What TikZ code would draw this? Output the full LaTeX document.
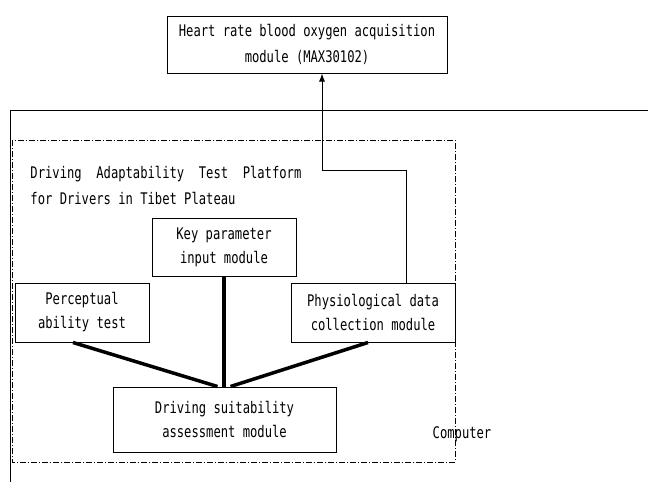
\documentclass[tikz,border=0pt]{standalone}
\usepackage{fontspec}
\setmainfont[FakeStretch=0.76]{DejaVu Sans Mono}
\usetikzlibrary{arrows.meta}

\begin{document}
\begin{tikzpicture}[x=1pt,y=-1pt,line width=1pt,
  font=\fontsize{16}{24}\selectfont,
  box/.style={draw,align=center,inner sep=0pt},
  link/.style={line width=3.5pt}]
\useasboundingbox (0,0) rectangle (648,482);
\node[box,minimum width=280,minimum height=57] (heart) at (307,44.5) {Heart rate blood oxygen acquisition\\[2pt]module (MAX30102)};
\draw (10,482) -- (10,110) -- (648,110);
\draw[dash pattern=on 6pt off 2pt on 1pt off 2pt] (12,140) rectangle (455,462);
\node[align=left,anchor=north west,inner sep=0pt] (title) at (30,166) {Driving\ \ Adaptability\ \ Test\ \ Platform\\[2pt]for Drivers in Tibet Plateau};
\node[box,minimum width=144,minimum height=58] (key) at (224,247) {Key parameter\\input module};
\node[box,minimum width=134,minimum height=59] (percep) at (82,312.5) {Perceptual\\ability test};
\node[box,minimum width=164,minimum height=59] (phys) at (373,312.5) {Physiological data\\collection module};
\node[box,minimum width=223,minimum height=65] (suit) at (224.5,419.5) {Driving suitability\\assessment module};
\node (comp) at (462,434) {Computer};
\coordinate (bend) at (322,170);
\draw[-{Latex[length=8pt,width=6pt]}] ([xshift=33]phys.north) |- (bend) -- (bend |- heart.south);
\draw[link] ([xshift=-9]percep.south) -- ([xshift=-7]suit.north);
\draw[link] (key.south) -- (key.south |- suit.north);
\draw[link] ([xshift=-5]phys.south) -- ([xshift=6]suit.north);
\end{tikzpicture}
\end{document}
